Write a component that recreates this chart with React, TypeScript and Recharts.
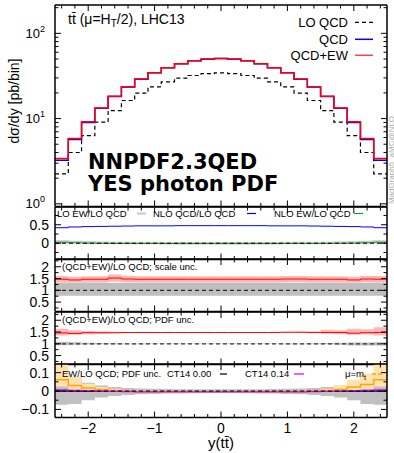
import React from 'react';
import { ComposedChart, Line, Area, XAxis, YAxis, ReferenceLine } from 'recharts';

// ---------- data ----------
const binEdges = [-2.5, -2.3, -2.1, -1.9, -1.7, -1.5, -1.3, -1.1, -0.9, -0.7, -0.5, -0.3, -0.1, 0.1, 0.3, 0.5, 0.7, 0.9, 1.1, 1.3, 1.5, 1.7, 1.9, 2.1, 2.3, 2.5];

// main panel: dsigma/dy [pb/bin]
const loQcd = [2.25, 4.0, 6.3, 9.1, 12.4, 16.3, 19.9, 23.6, 27.0, 29.8, 32.0, 33.6, 34.4, 33.6, 32.0, 29.8, 27.0, 23.6, 19.9, 16.3, 12.4, 9.1, 6.3, 4.0, 2.25];
const nloQcd = [3.25, 5.7, 9.0, 13.2, 18.2, 23.4, 29.0, 34.5, 39.5, 44.0, 47.6, 49.8, 50.6, 49.8, 47.6, 44.0, 39.5, 34.5, 29.0, 23.4, 18.2, 13.2, 9.0, 5.7, 3.25];
const nloQcdEw = [3.4, 5.85, 9.15, 13.35, 18.3, 23.5, 29.1, 34.6, 39.6, 44.1, 47.7, 49.9, 50.7, 49.9, 47.7, 44.1, 39.6, 34.6, 29.1, 23.5, 18.3, 13.35, 9.15, 5.85, 3.4];

// panel 2: ratios to LO QCD
const ratioLoEw = [0.045, 0.03, 0.02, 0.013, 0.009, 0.006, 0.004, 0.003, 0.002, 0.002, 0.001, 0.001, 0.001, 0.001, 0.001, 0.002, 0.002, 0.003, 0.004, 0.006, 0.009, 0.013, 0.02, 0.03, 0.045];
const ratioNloQcd = [0.42, 0.44, 0.45, 0.455, 0.46, 0.465, 0.47, 0.47, 0.47, 0.475, 0.475, 0.475, 0.475, 0.475, 0.475, 0.475, 0.47, 0.47, 0.47, 0.465, 0.46, 0.455, 0.45, 0.44, 0.42];
const ratioNloEw = [0.025, 0.012, 0.004, -0.001, -0.004, -0.006, -0.007, -0.008, -0.008, -0.009, -0.009, -0.009, -0.009, -0.009, -0.009, -0.009, -0.008, -0.008, -0.007, -0.006, -0.004, -0.001, 0.004, 0.012, 0.025];

// panel 3: (QCD+EW)/LO QCD, scale unc.
const scaleRatio = [1.47, 1.44, 1.47, 1.47, 1.52, 1.48, 1.47, 1.47, 1.47, 1.47, 1.47, 1.47, 1.47, 1.47, 1.47, 1.47, 1.47, 1.48, 1.48, 1.47, 1.47, 1.47, 1.44, 1.48, 1.47];
const scaleBandLo = [1.33, 1.33, 1.33, 1.33, 1.36, 1.34, 1.33, 1.33, 1.33, 1.33, 1.33, 1.33, 1.33, 1.33, 1.33, 1.33, 1.33, 1.34, 1.34, 1.33, 1.33, 1.33, 1.33, 1.34, 1.33];
const scaleBandHi = [1.61, 1.58, 1.6, 1.6, 1.67, 1.62, 1.6, 1.6, 1.6, 1.6, 1.6, 1.6, 1.6, 1.6, 1.6, 1.6, 1.6, 1.61, 1.61, 1.6, 1.6, 1.6, 1.58, 1.61, 1.61];
const loScaleLo = [0.77, 0.77, 0.77, 0.77, 0.77, 0.77, 0.77, 0.77, 0.77, 0.77, 0.77, 0.77, 0.77, 0.77, 0.77, 0.77, 0.77, 0.77, 0.77, 0.77, 0.77, 0.77, 0.77, 0.77, 0.77];
const loScaleHi = [1.32, 1.32, 1.32, 1.32, 1.32, 1.32, 1.32, 1.32, 1.32, 1.32, 1.32, 1.32, 1.32, 1.32, 1.32, 1.32, 1.32, 1.32, 1.32, 1.32, 1.32, 1.32, 1.32, 1.32, 1.32];

// panel 4: (QCD+EW)/LO QCD, PDF unc.
const pdfRatio = [1.46, 1.44, 1.47, 1.47, 1.47, 1.48, 1.48, 1.48, 1.48, 1.48, 1.48, 1.48, 1.48, 1.48, 1.48, 1.48, 1.48, 1.49, 1.49, 1.48, 1.48, 1.48, 1.45, 1.47, 1.48];
const pdfBandLo = [1.35, 1.38, 1.41, 1.43, 1.45, 1.46, 1.46, 1.465, 1.465, 1.465, 1.465, 1.465, 1.465, 1.465, 1.465, 1.465, 1.465, 1.46, 1.46, 1.45, 1.43, 1.41, 1.38, 1.39, 1.35];
const pdfBandHi = [1.64, 1.58, 1.54, 1.52, 1.51, 1.5, 1.5, 1.495, 1.495, 1.495, 1.495, 1.495, 1.495, 1.495, 1.495, 1.495, 1.495, 1.5, 1.51, 1.52, 1.6, 1.58, 1.64, 1.62, 1.7];
const loPdfLo = [0.94, 0.96, 0.97, 0.975, 0.98, 0.985, 0.985, 0.99, 0.99, 0.99, 0.99, 0.99, 0.99, 0.99, 0.99, 0.99, 0.99, 0.985, 0.985, 0.98, 0.975, 0.96, 0.93, 0.93, 0.93];
const loPdfHi = [1.09, 1.06, 1.04, 1.03, 1.02, 1.015, 1.015, 1.01, 1.01, 1.01, 1.01, 1.01, 1.01, 1.01, 1.01, 1.01, 1.01, 1.015, 1.015, 1.02, 1.03, 1.04, 1.05, 1.05, 1.06];

// panel 5: EW/LO QCD, PDF unc.
const ewPdfLo = [-0.075, -0.07, -0.05, -0.035, -0.027, -0.022, -0.018, -0.016, -0.014, -0.013, -0.012, -0.011, -0.011, -0.011, -0.012, -0.013, -0.014, -0.016, -0.018, -0.022, -0.027, -0.035, -0.05, -0.07, -0.075];
const ewPdfHi = [0.1, 0.075, 0.045, 0.03, 0.022, 0.017, 0.014, 0.012, 0.011, 0.01, 0.009, 0.009, 0.009, 0.009, 0.009, 0.01, 0.011, 0.012, 0.014, 0.017, 0.022, 0.03, 0.045, 0.075, 0.1];
const ct14p00 = [-0.001, -0.001, -0.002, -0.002, -0.002, -0.002, -0.003, -0.003, -0.003, -0.003, -0.003, -0.003, -0.003, -0.003, -0.003, -0.003, -0.003, -0.003, -0.003, -0.002, -0.002, -0.002, -0.002, -0.001, -0.001];
const ct14p14 = [0.006, 0.003, 0.001, -0.001, -0.002, -0.003, -0.004, -0.004, -0.004, -0.004, -0.004, -0.004, -0.004, -0.004, -0.004, -0.004, -0.004, -0.004, -0.004, -0.003, -0.002, -0.001, 0.001, 0.003, 0.006];
const muMt = [0.062, 0.03, 0.016, 0.008, 0.003, 0.0, -0.002, -0.003, -0.004, -0.004, -0.004, -0.004, -0.004, -0.004, -0.004, -0.004, -0.004, -0.003, -0.002, 0.0, 0.003, 0.008, 0.022, 0.036, 0.062];
const muMtLo = [0.025, 0.005, 0.0, -0.002, -0.004, -0.005, -0.006, -0.006, -0.006, -0.006, -0.006, -0.006, -0.006, -0.006, -0.006, -0.006, -0.006, -0.006, -0.006, -0.005, -0.004, -0.002, 0.002, 0.01, 0.025];
const muMtHi = [0.17, 0.075, 0.04, 0.022, 0.012, 0.006, 0.002, 0.001, 0.0, 0.0, 0.0, 0.0, 0.0, 0.0, 0.0, 0.0, 0.0, 0.001, 0.002, 0.006, 0.012, 0.03, 0.06, 0.095, 0.17];

// ticks
const xMajor = [-2, -1, 0, 1, 2];
const xMinor = [-2.4, -2.2, -1.8, -1.6, -1.4, -1.2, -0.8, -0.6, -0.4, -0.2, 0.2, 0.4, 0.6, 0.8, 1.2, 1.4, 1.6, 1.8, 2.2, 2.4];
const logMajor = [1, 10, 100];
const logMinor = [2, 3, 4, 5, 6, 7, 8, 9, 20, 30, 40, 50, 60, 70, 80, 90, 200];
const r1Major = [0, 0.5];
const r1Minor = [-0.25, 0.25, 0.75];
const r2Major = [0.5, 1, 1.5, 2];
const r2Minor = [0.25, 0.75, 1.25, 1.75, 2.25];
const r4Major = [-0.1, 0, 0.1];
const r4Minor = [-0.05, 0.05];

// ---------- table ----------
const rows = binEdges.map((x, i) => {
  const k = Math.min(i, 24);
  return {
    x,
    lo: loQcd[k], qcd: nloQcd[k], qcdEw: nloQcdEw[k],
    rLoEw: ratioLoEw[k], rNloQcd: ratioNloQcd[k], rNloEw: ratioNloEw[k],
    sc: scaleRatio[k], scBand: [scaleBandLo[k], scaleBandHi[k]], loSc: [loScaleLo[k], loScaleHi[k]],
    pdf: pdfRatio[k], pdfBand: [pdfBandLo[k], pdfBandHi[k]], loPdf: [loPdfLo[k], loPdfHi[k]],
    ewPdf: [ewPdfLo[k], ewPdfHi[k]], c00: ct14p00[k], c14: ct14p14[k], mt: muMt[k], mtBand: [muMtLo[k], muMtHi[k]],
  };
});

const FONT = '"Liberation Sans", Arial, Helvetica, sans-serif';
const TM = 6;
type Side = 'left' | 'right' | 'top' | 'bottom';
const isIn = (arr: number[], v: number) => arr.some((m) => Math.abs(m - v) < 1e-9);
const fmtNum = (v: number) => (v < 0 ? '\u2212' + String(Math.abs(v)) : String(v));

function makeTick(side: Side, majors: number[], label?: (v: number, x: number, y: number) => React.ReactNode) {
  return (p: any) => {
    const { x, y, payload } = p;
    const v = payload.value;
    const maj = isIn(majors, v);
    const len = maj ? 6 : 3.5;
    let l: React.ReactNode = null;
    if (side === 'left') {
      const e = x + TM;
      l = <line x1={e} x2={e + len} y1={y} y2={y} stroke="#000" strokeWidth={1} />;
    } else if (side === 'right') {
      const e = x - TM;
      l = <line x1={e} x2={e - len} y1={y} y2={y} stroke="#000" strokeWidth={1} />;
    } else if (side === 'bottom') {
      const e = y - TM;
      l = <line x1={x} x2={x} y1={e} y2={e - len} stroke="#000" strokeWidth={1} />;
    } else {
      const e = y + TM;
      l = <line x1={x} x2={x} y1={e} y2={e + len} stroke="#000" strokeWidth={1} />;
    }
    return (
      <g>
        {l}
        {maj && label ? label(v, x, y) : null}
      </g>
    );
  };
}

const logLabel = (v: number, x: number, y: number) => (
  <text x={x - 4} y={y + 4.5} textAnchor="end" fontSize={13} fontFamily={FONT} fill="#000">
    10<tspan dy={-6} fontSize={9}>{String(Math.round(Math.log10(v)))}</tspan>
  </text>
);
const linLabel = (v: number, x: number, y: number) => (
  <text x={x} y={y + 5} textAnchor="end" fontSize={14} fontFamily={FONT} fill="#000">{fmtNum(v)}</text>
);
const xLabel = (v: number, x: number, y: number) => (
  <text x={x} y={y + 9} textAnchor="middle" fontSize={14} fontFamily={FONT} fill="#000">{fmtNum(v)}</text>
);

const frame = { stroke: '#000', strokeWidth: 1.5 };
const sortNum = (a: number[]) => [...a].sort((p, q) => p - q);

function Panel(props: {
  top: number; bottom: number; yDomain: [number, number]; yMajor: number[]; yMinor: number[];
  log?: boolean; xLabels?: boolean; children: React.ReactNode;
}) {
  const { top, bottom, yDomain, yMajor, yMinor, log, xLabels, children } = props;
  const bottomH = xLabels ? 34 : 1;
  const h = bottom - top + 4 + bottomH + 3;
  const yTicks = sortNum([...yMajor, ...yMinor]);
  const xTicks = sortNum([...xMajor, ...xMinor]);
  const scale = log ? 'log' : 'linear';
  return (
    <div style={{ position: 'absolute', left: 0, top: top - 4 }}>
      <ComposedChart width={394} height={h} data={rows} margin={{ top: 3, right: 6, bottom: 3, left: 0 }}>
        {children}
        <XAxis xAxisId="b" type="number" dataKey="x" domain={[-2.5, 2.5]} allowDataOverflow ticks={xTicks} interval={0}
          tickLine={false} tickSize={0} tickMargin={TM} axisLine={frame} height={bottomH}
          tick={makeTick('bottom', xMajor, xLabels ? xLabel : undefined)} />
        <XAxis xAxisId="t" orientation="top" type="number" dataKey="x" domain={[-2.5, 2.5]} allowDataOverflow ticks={xTicks} interval={0}
          tickLine={false} tickSize={0} tickMargin={TM} axisLine={frame} height={1}
          tick={makeTick('top', xMajor)} />
        <YAxis yAxisId="l" type="number" scale={scale} domain={yDomain} allowDataOverflow ticks={yTicks} interval={0}
          tickLine={false} tickSize={0} tickMargin={TM} axisLine={frame} width={55}
          tick={makeTick('left', yMajor, log ? logLabel : linLabel)} />
        <YAxis yAxisId="r" orientation="right" type="number" scale={scale} domain={yDomain} allowDataOverflow ticks={yTicks} interval={0}
          tickLine={false} tickSize={0} tickMargin={TM} axisLine={frame} width={1}
          tick={makeTick('right', yMajor)} />
      </ComposedChart>
    </div>
  );
}

const ax = { xAxisId: 'b', yAxisId: 'l' } as const;
const stepLine = (key: string, stroke: string, width: number, dash?: string) => (
  <Line {...ax} key={key} type="stepAfter" dataKey={key} stroke={stroke} strokeWidth={width} strokeDasharray={dash}
    dot={false} activeDot={false} isAnimationActive={false} />
);
const stepBand = (key: string, fill: string) => (
  <Area {...ax} key={key} type="stepAfter" dataKey={key} stroke="none" fill={fill} fillOpacity={1}
    dot={false} activeDot={false} isAnimationActive={false} />
);

export default function App() {
  const t = { fontFamily: FONT, fill: '#000' };
  return (
    <div style={{ position: 'absolute', left: 0, top: 0, width: 394, height: 453, background: '#fff', overflow: 'hidden', fontFamily: FONT }}>
      <Panel top={5} bottom={206.5} yDomain={[0.93, 215]} yMajor={logMajor} yMinor={logMinor} log>
        {stepLine('lo', '#000', 1.2, '4 3')}
        {stepLine('qcd', '#0000ff', 1.5)}
        {stepLine('qcdEw', '#ff0000', 1.5)}
      </Panel>
      <Panel top={206.5} bottom={259} yDomain={[-0.44, 0.98]} yMajor={r1Major} yMinor={r1Minor}>
        {stepLine('rLoEw', '#c8c8c8', 2.5)}
        {stepLine('rNloQcd', '#0000ff', 1)}
        {stepLine('rNloEw', '#20a020', 1)}
        <ReferenceLine {...ax} y={0} stroke="#000" strokeWidth={1} strokeDasharray="4 3" />
      </Panel>
      <Panel top={259} bottom={311.5} yDomain={[0.1, 2.33]} yMajor={r2Major} yMinor={r2Minor}>
        {stepBand('scBand', '#ffb6b6')}
        {stepBand('loSc', '#bebebe')}
        {stepLine('sc', '#ff0000', 1)}
        <ReferenceLine {...ax} y={1} stroke="#000" strokeWidth={1} strokeDasharray="4 3" />
      </Panel>
      <Panel top={311.5} bottom={364} yDomain={[0.12, 2.35]} yMajor={r2Major} yMinor={r2Minor}>
        {stepBand('pdfBand', '#ffb6b6')}
        {stepBand('loPdf', '#bebebe')}
        {stepLine('pdf', '#ff0000', 1)}
        <ReferenceLine {...ax} y={1} stroke="#333" strokeWidth={1.2} strokeDasharray="4 3" />
      </Panel>
      <Panel top={364} bottom={417.5} yDomain={[-0.144, 0.147]} yMajor={r4Major} yMinor={r4Minor} xLabels>
        {stepBand('ewPdf', '#c0c0c0')}
        {stepBand('mtBand', '#ffe2ad')}
        {stepLine('c00', '#000', 1.2)}
        {stepLine('mt', '#ffa500', 1.5)}
        {stepLine('c14', '#cc00ff', 1.2)}
        <ReferenceLine {...ax} y={0} stroke="#000" strokeWidth={1} strokeDasharray="4 3" />
      </Panel>

      <svg width={394} height={453} style={{ position: 'absolute', left: 0, top: 0, pointerEvents: 'none' }}>
        {/* main panel texts */}
        <text x={68} y={23.5} fontSize={14} {...t}>
          tt{'\u0304'} ({'\u03bc'}=H<tspan dy={3} fontSize={10}>T</tspan><tspan dy={-3}>/2), LHC13</tspan>
        </text>
        <text x={348} y={26.5} fontSize={13} textAnchor="end" {...t}>LO QCD</text>
        <line x1={355} x2={373} y1={22.3} y2={22.3} stroke="#000" strokeWidth={1.2} strokeDasharray="4 3" />
        <text x={348} y={43.5} fontSize={13} textAnchor="end" {...t}>QCD</text>
        <line x1={355} x2={373} y1={39.3} y2={39.3} stroke="#0000ff" strokeWidth={1.5} />
        <text x={348} y={59.5} fontSize={13} textAnchor="end" {...t}>QCD+EW</text>
        <line x1={355} x2={373} y1={55.3} y2={55.3} stroke="#ff4040" strokeWidth={1.5} />
        <text x={88} y={168.5} fontSize={21} fontWeight="bold" fontFamily='"DejaVu Sans", sans-serif' fill="#000">NNPDF2.3QED</text>
        <text x={88} y={191} fontSize={21} fontWeight="bold" fontFamily='"DejaVu Sans", sans-serif' fill="#000">YES photon PDF</text>
        <text transform="translate(19,101) rotate(-90)" textAnchor="middle" fontSize={14} {...t}>d{'\u03c3'}/dy [pb/bin]</text>
        <text transform="translate(393.5,160) rotate(-90)" textAnchor="middle" fontSize={8} fontFamily={FONT} fill="#aaa">MadGraph5_aMC@NLO</text>

        {/* panel 2 legend */}
        <text x={57} y={216.5} fontSize={9.5} {...t}>LO EW/LO QCD</text>
        <line x1={137} x2={146} y1={213.5} y2={213.5} stroke="#c8c8c8" strokeWidth={2} />
        <text x={153} y={216.5} fontSize={9.5} {...t}>NLO QCD/LO QCD</text>
        <line x1={247} x2={256} y1={213.5} y2={213.5} stroke="#0000ff" strokeWidth={1.2} />
        <text x={274} y={216.5} fontSize={9.5} {...t}>NLO EW/LO QCD</text>
        <line x1={354} x2={363} y1={213.5} y2={213.5} stroke="#20a020" strokeWidth={1.2} />

        {/* panel 3/4 labels */}
        <text x={62} y={270} fontSize={9.5} {...t}>(QCD+EW)/LO QCD; scale unc.</text>
        <text x={62} y={323} fontSize={9.5} {...t}>(QCD+EW)/LO QCD; PDF unc.</text>

        {/* panel 5 legend */}
        <text x={62} y={376.5} fontSize={9.5} {...t}>EW/LO QCD; PDF unc.</text>
        <text x={167} y={377} fontSize={9.5} {...t}>CT14 0.00</text>
        <line x1={220} x2={227} y1={374} y2={374} stroke="#000" strokeWidth={1.2} />
        <text x={245} y={377} fontSize={9.5} {...t}>CT14 0.14</text>
        <line x1={294} x2={304} y1={374} y2={374} stroke="#cc00ff" strokeWidth={1.2} />
        <text x={345} y={377} fontSize={9.5} {...t}>{'\u03bc'}=m<tspan dy={2.5} fontSize={7}>t</tspan></text>
        <line x1={372} x2={384} y1={374} y2={374} stroke="#ffa500" strokeWidth={1.5} strokeDasharray="4 2" />

        {/* x axis title */}
        <text x={221} y={448} fontSize={15} textAnchor="middle" {...t}>y(tt{'\u0304'})</text>
      </svg>
    </div>
  );
}
